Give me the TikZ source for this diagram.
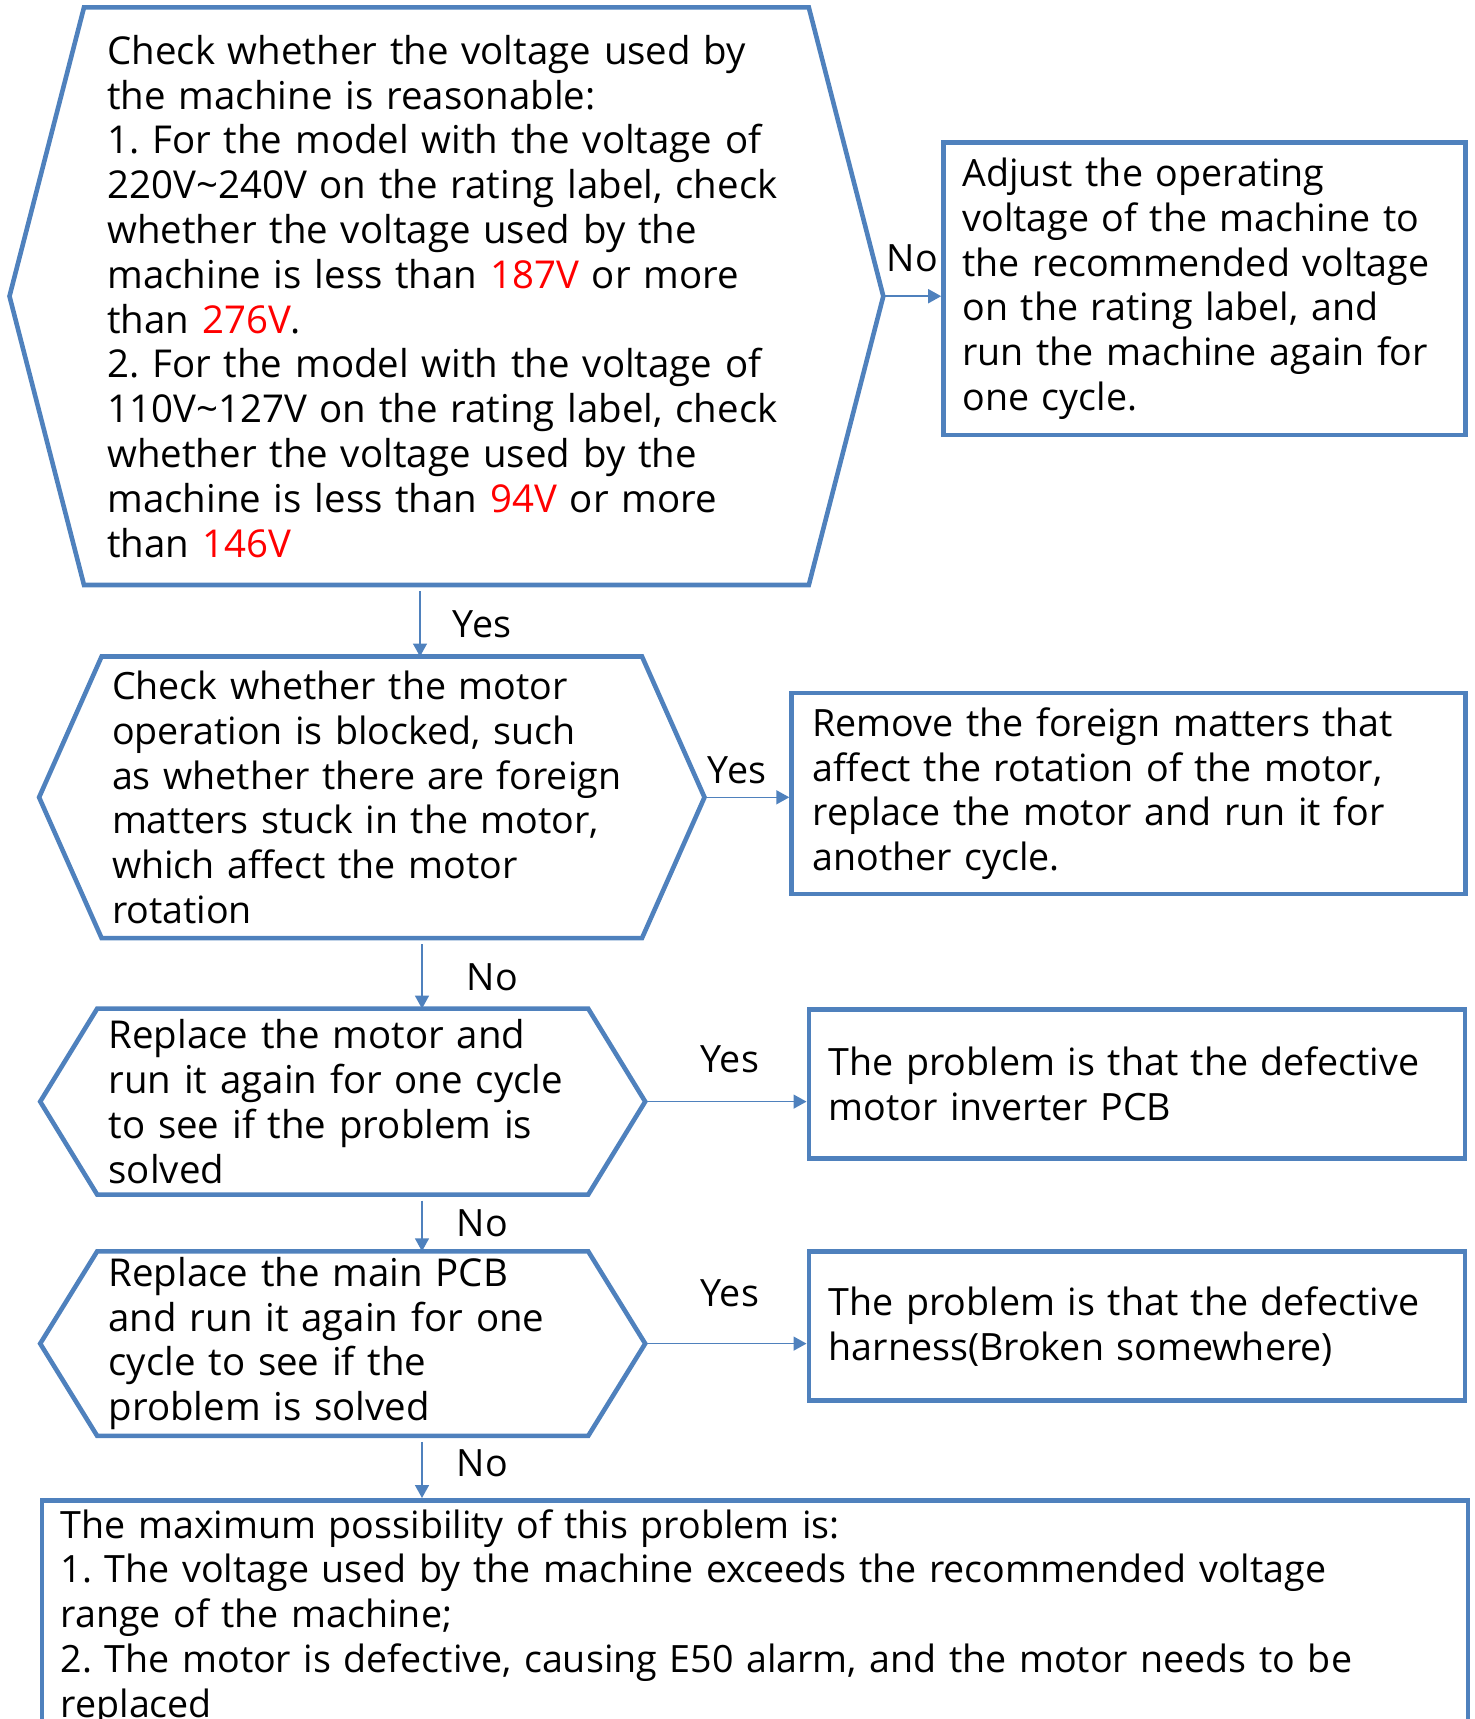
\documentclass[tikz,border=0pt]{standalone}
\usepackage{fontspec}
\setmainfont{Open Sans}
\usetikzlibrary{arrows.meta,positioning}

\definecolor{lineblue}{RGB}{79,129,189}
\definecolor{limitred}{RGB}{255,0,0}

\newcommand{\limit}[1]{\textcolor{limitred}{#1}}
\newcommand{\hexframe}[2]{%
  \draw[blueline] (#1.north west) -- (#1.north east) -- ([xshift=#2]#1.east)
    -- (#1.south east) -- (#1.south west) -- ([xshift=-#2]#1.west) -- cycle;}

\tikzset{
  blueline/.style={draw=lineblue, line width=2.3pt},
  hexa/.style={align=left, inner ysep=0pt, font=\fontsize{19.2pt}{22.4pt}\selectfont},
  box/.style={blueline, align=left, inner ysep=0pt},
  arr/.style={draw=lineblue, line width=0.8pt, -{Triangle[length=6.5pt,width=7pt]}},
  lbl/.style={inner sep=0pt},
}

\begin{document}
\frenchspacing
\begin{tikzpicture}[x=0.5pt, y=-0.5pt, font=\fontsize{18.8pt}{22.4pt}\selectfont]
\useasboundingbox (0,0) rectangle (1475,1719);

\node [hexa, text width=339pt, inner xsep=11.5pt, minimum height=288.4pt] (volt) at (446.4,296.2)
  {Check whether the voltage used by\\
   the machine is reasonable:\\
   1. For the model with the voltage of\\
   220V\textasciitilde240V on the rating label, check\\
   whether the voltage used by the\\
   machine is less than \limit{187V} or more\\
   than \limit{276V}.\\
   2. For the model with the voltage of\\
   110V\textasciitilde127V on the rating label, check\\
   whether the voltage used by the\\
   machine is less than \limit{94V} or more\\
   than \limit{146V}};
\hexframe{volt}{37.25pt}

\node [box, text width=242pt, minimum height=146.2pt, inner xsep=9.5pt] (adjust) at (1204.5,288.8)
  {Adjust the operating\\
   voltage of the machine to\\
   the recommended voltage\\
   on the rating label, and\\
   run the machine again for\\
   one cycle.};

\node [hexa, text width=259.8pt, inner xsep=5pt, minimum height=140.4pt,
       font=\fontsize{18.8pt}{22.4pt}\selectfont] (blocked) at (371.8,797.3)
  {Check whether the motor\\
   operation is blocked, such\\
   as whether there are foreign\\
   matters stuck in the motor,\\
   which affect the motor\\
   rotation};
\hexframe{blocked}{31.25pt}

\node [box, text width=316pt, minimum height=100.5pt, inner xsep=10.5pt] (remove) at (1128.6,793.6)
  {Remove the foreign matters that\\
   affect the rotation of the motor,\\
   replace the motor and run it for\\
   another cycle.};

\node [hexa, text width=234.1pt, inner xsep=5.5pt, minimum height=92.6pt] (motor) at (342.7,1101.6)
  {Replace the motor and\\
   run it again for one cycle\\
   to see if the problem is\\
   solved};
\hexframe{motor}{28.5pt}

\node [box, text width=308pt, minimum height=74.5pt, inner xsep=10pt] (inverter) at (1136.8,1083.8)
  {The problem is that the defective\\
   motor inverter PCB};

\node [hexa, text width=234.1pt, inner xsep=5.5pt, minimum height=91.9pt] (mainpcb) at (342.7,1343.6)
  {Replace the main PCB\\
   and run it again for one\\
   cycle to see if the\\
   problem is solved};
\hexframe{mainpcb}{28.5pt}

\node [box, text width=308pt, minimum height=74.5pt, inner xsep=10pt] (harness) at (1136.8,1326.2)
  {The problem is that the defective\\
   harness(Broken somewhere)};

% summary box runs past the lower page edge
\node [box, anchor=north west, text width=694pt, inner xsep=9.5pt, inner ysep=4.5pt] (summary) at (39.5,1498)
  {The maximum possibility of this problem is:\\
   1. The voltage used by the machine exceeds the recommended voltage\\
   range of the machine;\\
   2. The motor is defective, causing E50 alarm, and the motor needs to be\\
   replaced};

\draw [arr] ([xshift=37.25pt]volt.east) -- (volt.east -| adjust.west)
  node [lbl, midway, above=12pt] {No};
\draw [arr, shorten <=3pt] ([xshift=-13.2pt]volt.south) -- ([xshift=-13.2pt]volt.south |- blocked.north)
  node [lbl, midway, right=16pt, yshift=-2pt] {Yes};

\draw [arr] ([xshift=31.25pt]blocked.east) -- (blocked.east -| remove.west)
  node [lbl, midway, above=6.5pt, xshift=-5pt] {Yes};
\draw [arr, shorten <=3pt] ([xshift=25.1pt]blocked.south) -- ([xshift=25.1pt]blocked.south |- motor.north)
  node [lbl, midway, right=22pt, yshift=-2pt] {No};

\draw [arr] ([xshift=28.5pt]motor.east) -- (motor.east -| inverter.west)
  node [lbl, midway, above=13.8pt, xshift=2pt] {Yes};
\draw [arr, shorten <=3pt] ([xshift=39.65pt]motor.south) -- ([xshift=39.65pt]motor.south |- mainpcb.north)
  node [lbl, midway, right=17pt] {No};

\draw [arr] ([xshift=28.5pt]mainpcb.east) -- (mainpcb.east -| harness.west)
  node [lbl, midway, above=18pt, xshift=2pt] {Yes};
\draw [arr, shorten <=3pt] ([xshift=39.65pt]mainpcb.south) -- ([xshift=39.65pt]mainpcb.south |- summary.north)
  node [lbl, midway, right=17pt, yshift=2pt] {No};

\end{tikzpicture}
\end{document}
